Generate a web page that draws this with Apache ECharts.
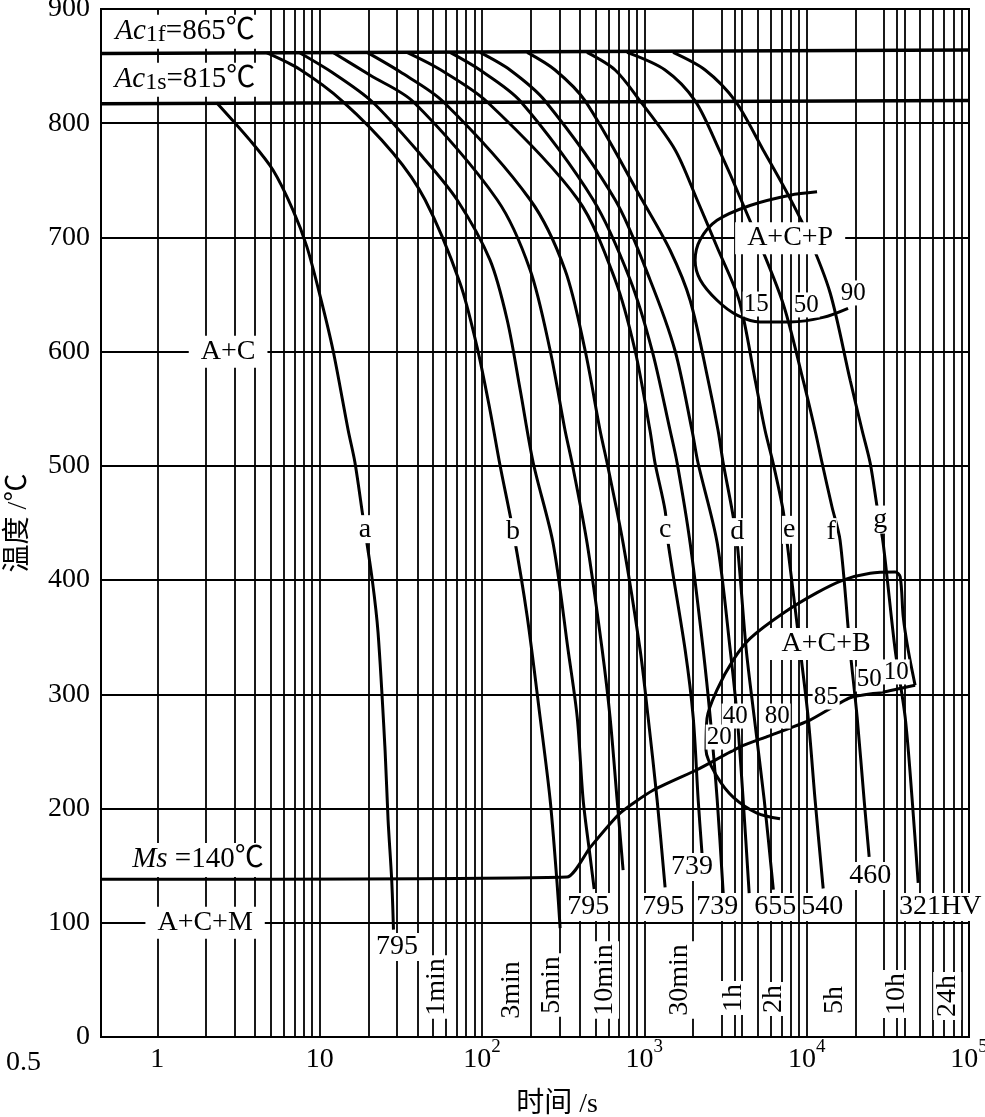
<!DOCTYPE html>
<html><head><meta charset="utf-8">
<script src="https://cdn.jsdelivr.net/npm/echarts@6.0.0/dist/echarts.min.js"></script>
<style>html,body{margin:0;padding:0;background:#fff}#c{width:985px;height:1117px}</style>
</head><body><div id="c"></div>
<script>
// ---------- data (time in s, temperature in °C) ----------
const ac1f = [[0.45, 861], [100000, 864]];
const ac1s = [[0.45, 817], [100000, 820]];
const msLine = [[0.45, 138], [333, 140], [464, 166], [709, 196], [1132, 216], [2113, 234], [3890, 254], [5700, 263], [10490, 277.5], [18510, 297], [29580, 302], [46560, 308]];
const bainiteStart = [[46560, 308], [42170, 339], [39340, 368], [37670, 403], [35080, 407], [24620, 406], [16790, 400], [11590, 389], [7161, 371], [4487, 349], [3524, 330], [2805, 304], [2432, 279], [2399, 251], [2805, 228], [3524, 210], [4943, 196], [6855, 191]];
const pearliteStart = [[11590, 740], [7890, 737], [4477, 728], [2805, 715], [2208, 698], [2056, 680], [2208, 663], [2805, 645], [3724, 632], [5164, 626], [7906, 626], [12620, 630], [17990, 638]];

const curveA = [[2.32,818],[3.73,785],[5.16,759],[6.85,724],[8.34,692],[10.1,648],[12.1,601],[15.0,531],[16.5,503],[18.5,455],[21.1,400],[22.9,354],[25.3,251],[26.4,190],[27.8,137],[28.5,94]];
const curveB = [[4.74,861.5],[7.57,847],[13.9,819],[28.3,774],[44.6,733],[73.3,660],[93.3,604],[112,549],[129,501],[156,442],[190,368],[228,280],[263,207.5],[290,135],[303,95.4]];
const curve3 = [[7.57,861.5],[12.1,844],[21.0,819],[43.4,770],[70.2,733],[112,680.3],[143,627.7],[172,566.4],[207,502.5],[274,432.5],[339,339],[386,280],[420,207.5],[464,157.6],[491,129.6]];
const curve4 = [[12.1,862],[20.5,842],[37.6,819],[124,733],[198,671.5],[263,601],[325,531],[359,502.5],[444,432.5],[550,339],[615,280],[680,207.5],[740,146]];
const curve5 = [[19.6,862],[31.3,845],[57.6,819],[198,733],[325,671.5],[432,601],[534,531],[590,502.5],[740,432.5],[942,339],[1055,280],[1199,207.5],[1343,131]];
const curveC = [[34.5,862],[55.2,847],[107,819],[391,733],[661,663],[877,601],[1084,531],[1164,502.5],[1343,461],[1402,432.5],[1784,339],[2000,280],[2147,207.5],[2271,159]];
const curve7 = [[63.6,862],[97.3,846.6],[172,819.5],[484,733],[818,663],[1117,601],[1442,531],[1593,502.5],[1915,432.5],[2305,339],[2545,280],[2812,207.5],[3062,126]];
const curve8 = [[97.3,862],[149,846.6],[245,819.5],[661,733],[1084,663],[1545,601],[1968,531],[2143,502.5],[2812,432.5],[3381,339],[3733,280],[4064,207.5],[4424,126]];
const curveD = [[190,862],[282,846.6],[432,819.5],[968,733],[1439,689],[1915,645],[2472,575],[2847,531],[3062,502.5],[3475,461],[3733,432.5],[4246,339],[4753,280],[5478,207.5],[6233,129]];
const curveE = [[444,862],[661,846.6],[942,819.5],[1549,776.6],[2113,733],[2805,691.6],[3836,645],[4819,575],[5546,531],[6214,502.5],[7161,461],[7584,432.5],[9120,339],[10210,280],[11270,207.5],[12640,130]];
const curveF = [[783,862],[1343,846.6],[2056,819.5],[2891,776.6],[3945,733],[7047,645],[9510,575],[11270,531],[12450,502.5],[14330,464],[16060,435],[18510,339],[20460,280],[22590,207.5],[24270,157.6]];
const curveG = [[1504,862],[2371,846.6],[3631,819.5],[5395,776.6],[7586,738.9],[10070,703.9],[13960,651.4],[18540,575],[21970,531],[24620,502.5],[27170,464],[29580,432.5],[35080,339],[40440,280],[44670,207.5],[48640,135]];

const coolingCurves = [curveA, curveB, curve3, curve4, curve5, curveC, curve7, curve8, curveD, curveE, curveF, curveG];

// vertical grid lines (s)
const gridTimes = [1,2,3,4,5,6,7,8,9,10,20,30,40,50,60,70,80,90,100,200,300,400,500,600,700,800,900,1000,2000,3000,3600,4000,5000,6000,7000,8000,9000,10000,20000,30000,36000,40000,50000,60000,70000,80000,90000];
const yTicks = [0,100,200,300,400,500,600,700,800,900];

// annotations: [text, time, temperature]
const letterLabels = [['a',19.0,444.6],['b',155.5,442],['c',1343,444],['d',3731,442],['e',7803,444],['f',14157,442],['g',28380,453]];
const hardnessLabels = [['795',30.0,78.8],['795',451,113.8],['795',1306,113.8],['739',1970,148.8],['739',2810,113.8],['655',6397,113.8],['540',12460,113.8],['460',24630,141],['321HV',66480,113.8]];
const timeLabels = [['1min',52.9,43.8],['3min',153.3,41.1],['5min',270,45.5],['10min',573,49.9],['30min',1662,49.9],['1h',3575,34.1],['2h',6305,33.3],['5h',14773,32.4],['10h',35600,37.6],['24h',73410,35.9]];
const smallNums = [['15',4885,641.7],['50',9929,640.9],['90',19340,651.4],['10',35600,319.6],['50',24280,313.4],['85',13183,297.7],['80',6580,281],['40',3626,281],['20',2891,262.6]];
const regionLabels = [['A+C',2.73,600],['A+C+M',1.97,100],['A+C+P',7913,699.4],['A+C+B',13183,344.1]];
const richLabels = [
  ['{i|Ac}{u|1f}{n|=865℃}', 1.48, 880],
  ['{i|Ac}{u|1s}{n|=815℃}', 1.48, 838],
  ['{i|Ms}{n| =140℃}', 1.78, 155]
];

// ---------- chart ----------
const FONT = '"Liberation Serif","Times New Roman","Noto Sans CJK SC",serif';
const chart = echarts.init(document.getElementById('c'), null, {renderer: 'canvas'});

function lineSeries(data, width, z) {
  return {type: 'line', data: data, showSymbol: false, symbol: 'none', smooth: 0.3, smoothMonotone: 'none',
    lineStyle: {color: '#000', width: width}, z: z || 3, silent: true, animation: false, clip: true};
}
function labelSeries(list, opts) {
  return {type: 'scatter', symbolSize: 0, z: 20, silent: true, animation: false,
    itemStyle: {opacity: 1},
    data: list.map(d => ({value: [d[1], d[2]], label: {formatter: d[0]}})),
    label: Object.assign({show: true, position: 'inside', color: '#000', opacity: 1, fontFamily: FONT, fontSize: 28,
      backgroundColor: '#fff', padding: [0, 2]}, opts || {})};
}

const series = [];
const acf = lineSeries(ac1f, 3.5, 4);
acf.markLine = {silent: true, symbol: 'none', animation: false, label: {show: false},
  lineStyle: {color: '#000', width: 1.8, type: 'solid'}, z: 1,
  data: gridTimes.map(v => ({xAxis: v}))};
series.push(acf);
series.push(lineSeries(ac1s, 3.5, 4));
series.push(Object.assign(lineSeries(msLine, 3, 4), {smooth: 0.2}));
series.push(lineSeries(bainiteStart, 3, 4));
series.push(lineSeries(pearliteStart, 3, 4));
coolingCurves.forEach(c => series.push(lineSeries(c, 3, 5)));

series.push(labelSeries(letterLabels, {padding: [0, 1]}));
series.push(labelSeries(hardnessLabels, {padding: [0, 1]}));
series.push(labelSeries(timeLabels, {rotate: 90, padding: [0, 3]}));
series.push(labelSeries(smallNums, {fontSize: 25, padding: [0, 1]}));
series.push(labelSeries(regionLabels, {padding: [2, 12]}));
series.push(labelSeries(richLabels, {padding: [2, 6], rich: {
  i: {fontFamily: FONT, fontSize: 29, fontStyle: 'italic', color: '#000', lineHeight: 30, verticalAlign: 'top'},
  n: {fontFamily: FONT, fontSize: 29, color: '#000', lineHeight: 30, verticalAlign: 'top'},
  u: {fontFamily: FONT, fontSize: 24, color: '#000', lineHeight: 20, verticalAlign: 'bottom', padding: [19, 0, 0, 0]}
}}));

chart.setOption({
  backgroundColor: '#fff',
  animation: false,
  grid: {left: 101, right: 16, top: 9, bottom: 80, containLabel: false, outerBoundsMode: 'none',
    show: true, borderColor: '#000', borderWidth: 2, backgroundColor: 'transparent'},
  xAxis: {
    type: 'log', logBase: 10, min: 0.45, max: 100000,
    name: '时间 /s', nameLocation: 'middle', nameGap: 54,
    nameTextStyle: {fontFamily: FONT, fontSize: 28, color: '#000', padding: [0, 0, 0, 44]},
    axisLine: {show: true, lineStyle: {color: '#000', width: 2}},
    axisTick: {show: false}, splitLine: {show: false}, minorSplitLine: {show: false},
    axisLabel: {
      margin: 1, showMinLabel: false,
      formatter: function (v) {
        const l = Math.log10(v), e = Math.round(l);
        if (Math.abs(l - e) > 1e-6) return '';
        if (e === 0) return '{b|1}';
        if (e === 1) return '{b|10}';
        return '{b|10}{s|' + e + '}';
      },
      rich: {
        b: {fontFamily: FONT, fontSize: 28, color: '#000', lineHeight: 36, verticalAlign: 'bottom'},
        s: {fontFamily: FONT, fontSize: 19, color: '#000', lineHeight: 16, verticalAlign: 'top'}
      }
    }
  },
  yAxis: {
    type: 'value', min: 0, max: 900, interval: 100,
    name: '温度 /℃', nameLocation: 'middle', nameGap: 68,
    nameTextStyle: {fontFamily: FONT, fontSize: 28, color: '#000'},
    axisLine: {show: true, lineStyle: {color: '#000', width: 2}},
    axisTick: {show: false},
    splitLine: {show: true, lineStyle: {color: '#000', width: 2}},
    axisLabel: {margin: 11, fontFamily: FONT, fontSize: 28, color: '#000',
      formatter: v => yTicks.indexOf(v) >= 0 ? String(v) : ''}
  },
  graphic: [{type: 'text', left: 6, top: 1049, silent: true,
    style: {text: '0.5', font: '28px ' + FONT, fill: '#000'}}],
  series: series
});
</script></body></html>
